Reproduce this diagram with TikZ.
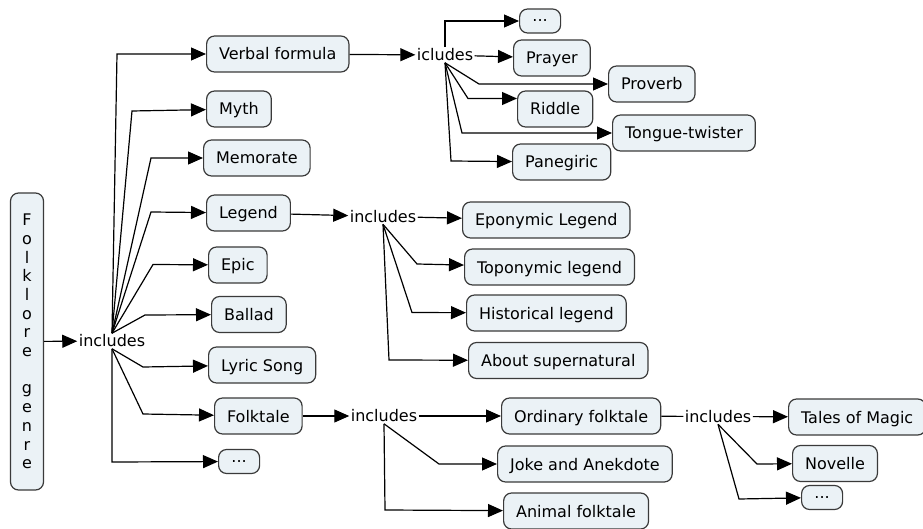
\documentclass[tikz,border=0pt]{standalone}
\usepackage{fontspec}
\setmainfont{DejaVu Sans}
\usepackage{tikz}
\usetikzlibrary{arrows.meta}
\definecolor{cmapfill}{HTML}{EBF2F6}
\definecolor{cmapline}{HTML}{3A3A3A}

\begin{document}
\begin{tikzpicture}[x=1pt, y=-1pt, line width=1.2pt,
  every node/.style={font=\fontsize{16pt}{19pt}\selectfont},
  concept/.style={draw=cmapline,fill=cmapfill,rounded corners=8pt,anchor=west,
    inner xsep=12.5pt,minimum height=36pt,text height=12pt,text depth=0pt},
  dots/.style={concept,inner xsep=4pt,minimum width=41pt,minimum height=24pt,
    text height=2pt,text depth=0pt},
  genre/.style={draw=cmapline,fill=cmapfill,rounded corners=8pt,align=center,
    minimum width=33pt,minimum height=297pt,inner sep=2pt,
    font=\fontsize{16pt}{18.7pt}\selectfont},
  link/.style={inner sep=1pt},
  arr/.style={-{Triangle[length=15pt,width=13pt]}}]
  \useasboundingbox (0,0) rectangle (923,529);

  \node[genre] (genre) at (27,341.5)
    {F\\o\\l\\k\\l\\o\\r\\e\\[18.7pt]g\\e\\n\\r\\e};
  \node[link] (minc) at (112,341) {includes};
  \draw[arr] (genre) -- (minc);

  \node[concept] (verbal) at (206,54) {Verbal formula};
  \node[concept] (myth) at (206,109) {Myth};
  \node[concept] (memorate) at (203,158) {Memorate};
  \node[concept] (legend) at (206,213) {Legend};
  \node[concept] (epic) at (208,265) {Epic};
  \node[concept] (ballad) at (211,314.5) {Ballad};
  \node[concept] (lyric) at (208,365) {Lyric Song};
  \node[concept] (folktale) at (214,416) {Folktale};
  \node[dots] (gdots) at (218,461.5) {...};
  \draw[arr] (minc.north) -- (117,54) -- (verbal);
  \draw[arr] (minc.north) -- (132,111) -- (myth);
  \draw[arr] (minc.north) -- (151,158) -- (memorate);
  \draw[arr] (minc.north) -- (151,212) -- (legend);
  \draw[arr] (minc.north) -- (153,264.5) -- (epic);
  \draw[arr] (minc.north) -- (145,315) -- (ballad);
  \draw[arr] (minc.south) -- (143,367) -- (lyric);
  \draw[arr] (minc.south) -- (143,414) -- (folktale);
  \draw[arr] (minc.south) -- (112,462) -- (gdots);

  \node[link] (vfi) at (445,55) {icludes};
  \draw[arr] (verbal) -- (vfi);
  \node[dots] (vdots) at (519,21) {...};
  \node[concept] (prayer) at (513,58) {Prayer};
  \node[concept] (proverb) at (608,84) {Proverb};
  \node[concept] (riddle) at (517,109) {Riddle};
  \node[concept] (tongue) at (612,133) {Tongue-twister};
  \node[concept] (panegiric) at (512,162) {Panegiric};
  \draw[arr] (vfi.north) -- (445,21) -- (vdots);
  \draw[arr] (vfi) -- (prayer);
  \draw[arr] (vfi.south) -- (479,84) -- (proverb);
  \draw[arr] (vfi.south) -- (468,98.5) -- (riddle.west |- 0,98.5);
  \draw[arr] (vfi.south) -- (462,133) -- (tongue);
  \draw[arr] (vfi.south) -- (451,161) -- (panegiric);

  \node[link] (lgi) at (383,216.5) {includes};
  \draw[arr] (legend) -- (lgi);
  \node[concept] (eponymic) at (462,220) {Eponymic Legend};
  \node[concept] (toponymic) at (464,267) {Toponymic legend};
  \node[concept] (historical) at (466,313) {Historical legend};
  \node[concept] (about) at (468,360.5) {About supernatural};
  \draw[arr] (lgi) -- (eponymic);
  \draw[arr] (lgi.south) -- (417,264) -- (toponymic);
  \draw[arr] (lgi.south) -- (412,312.5) -- (historical);
  \draw[arr] (lgi.south) -- (389,360) -- (about);

  \node[link] (fti) at (384,416) {includes};
  \draw[arr] (folktale) -- (fti);
  \node[concept] (ordinary) at (501,416) {Ordinary folktale};
  \node[concept] (joke) at (497,464) {Joke and Anekdote};
  \node[concept] (animal) at (503,511) {Animal folktale};
  \draw[arr] (fti) -- (ordinary);
  \draw[arr] (fti.south) -- (439,464) -- (joke);
  \draw[arr] (fti.south) -- (385,510) -- (animal);

  \node[link] (ofi) at (718,416.5) {includes};
  \draw (ordinary) -- (ofi);
  \node[concept] (magic) at (788,417) {Tales of Magic};
  \node[concept] (novelle) at (792,463.5) {Novelle};
  \node[dots] (odots) at (801,497.5) {...};
  \draw[arr] (ofi) -- (magic);
  \draw[arr] (ofi.south) -- (757,464) -- (novelle);
  \draw[arr] (ofi.south) -- (739,499) -- (odots);
\end{tikzpicture}
\end{document}
